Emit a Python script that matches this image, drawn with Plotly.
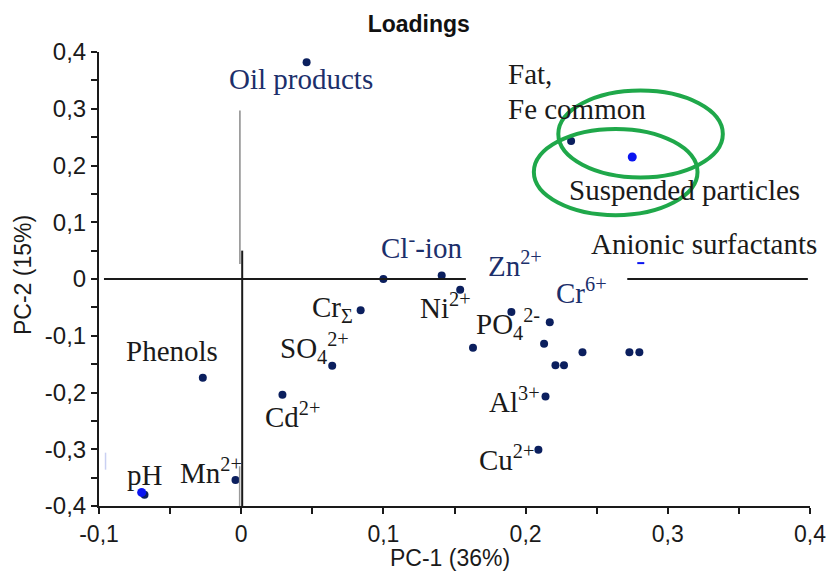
import plotly.graph_objects as go

# ---- data ----
pc1_navy = [0.046, 0.232, 0.100, 0.141, 0.154, 0.084, 0.190, 0.217, 0.163, 0.213, 0.240,
            0.273, 0.280, 0.221, 0.227, 0.214, 0.209, -0.027, 0.064, 0.029, -0.004, -0.068]
pc2_navy = [0.382, 0.243, 0.000, 0.006, -0.019, -0.055, -0.058, -0.076, -0.121, -0.114, -0.129,
            -0.129, -0.129, -0.152, -0.152, -0.207, -0.301, -0.174, -0.153, -0.204, -0.354, -0.380]
pc1_blue = [0.275, -0.070]
pc2_blue = [0.215, -0.376]
pc1_dash = [0.281]
pc2_dash = [0.028]

label_text = ["Oil products", "Fat,", "Fe common", "Suspended particles", "Anionic surfactants",
              "Cl<sup>-</sup>-ion", "Zn<sup>2+</sup>", "Cr<sup>6+</sup>", "Cr<sub>Σ</sub>",
              "Ni<sup>2+</sup>", "PO<sub>4</sub><sup>2-</sup>", "SO<sub>4</sub><sup>2+</sup>",
              "Phenols", "Cd<sup>2+</sup>", "Mn<sup>2+</sup>", "pH", "Al<sup>3+</sup>", "Cu<sup>2+</sup>"]
label_x = [0.0418, 0.1865, 0.1865, 0.2293, 0.2444, 0.0971, 0.1719, 0.2199, 0.0484,
           0.1240, 0.1637, 0.0257, -0.0821, 0.0152, -0.0444, -0.0819, 0.1726, 0.1656]
label_y = [0.3516, 0.3604, 0.3004, 0.1570, 0.0618, 0.0583, 0.0260, -0.0212, -0.0530,
           -0.0477, -0.0800, -0.1214, -0.1270, -0.2390, -0.3390, -0.3450, -0.2126, -0.3157]
label_navy = [True, False, False, False, False, True, True, True, False,
              False, False, False, False, False, False, False, False, False]

x_tickvals = [-0.1, 0, 0.1, 0.2, 0.3, 0.4]
x_ticktext = ["-0,1", "0", "0,1", "0,2", "0,3", "0,4"]
y_tickvals = [-0.4, -0.3, -0.2, -0.1, 0, 0.1, 0.2, 0.3, 0.4]
y_ticktext = ["-0,4", "-0,3", "-0,2", "-0,1", "0", "0,1", "0,2", "0,3", "0,4"]

NAVY = "#0b1f5e"
NAVY_TXT = "#1c2f6b"
SERIF = "Liberation Serif"
SANS = "Liberation Sans"

fig = go.Figure()

# axis cross lines
shapes = [
    dict(type="line", x0=-0.0965, x1=0.158, y0=0, y1=0, line=dict(color="#1a1a1a", width=2)),
    dict(type="line", x0=0.2715, x1=0.3985, y0=0, y1=0, line=dict(color="#1a1a1a", width=2)),
    dict(type="line", x0=0.0007, x1=0.0007, y0=0.05, y1=-0.4, line=dict(color="#1a1a1a", width=2)),
    dict(type="line", x0=-0.0009, x1=-0.0009, y0=0.297, y1=0.0265, line=dict(color="#8a8a8a", width=1.5)),
    dict(type="line", x0=-0.0011, x1=-0.0011, y0=-0.33, y1=-0.4, line=dict(color="#9a9a9a", width=1.5)),
    dict(type="line", x0=-0.0954, x1=-0.0954, y0=-0.306, y1=-0.336, line=dict(color="#c9d0f2", width=1.5)),
    # green ellipses
    dict(type="circle", x0=0.223, x1=0.3387, y0=0.179, y1=0.332, line=dict(color="#1fa84a", width=4)),
    dict(type="circle", x0=0.2058, x1=0.3209, y0=0.1125, y1=0.2645, line=dict(color="#1fa84a", width=4)),
]

fig.add_trace(go.Scatter(x=pc1_navy, y=pc2_navy, mode="markers",
                         marker=dict(color=NAVY, size=8), showlegend=False, hoverinfo="skip"))
fig.add_trace(go.Scatter(x=pc1_blue, y=pc2_blue, mode="markers",
                         marker=dict(color="#0a14f0", size=9), showlegend=False, hoverinfo="skip"))
fig.add_trace(go.Scatter(x=pc1_dash, y=pc2_dash, mode="markers",
                         marker=dict(symbol="line-ew", size=5, line=dict(color="#0a14f0", width=2)),
                         showlegend=False, hoverinfo="skip"))

annotations = []
for t, x, y, nv in zip(label_text, label_x, label_y, label_navy):
    anchor = "center" if t == "Oil products" else "left"
    annotations.append(dict(x=x, y=y, xref="x", yref="y", text=t, showarrow=False,
                            xanchor=anchor, yanchor="middle",
                            font=dict(family=SERIF, size=29, color=NAVY_TXT if nv else "#1a1a1a")))

annotations.append(dict(x=0.4937, y=-0.1145, xref="paper", yref="paper", text="PC-1 (36%)",
                        showarrow=False, xanchor="center", yanchor="middle",
                        font=dict(family=SANS, size=23, color="#1a1a1a")))
annotations.append(dict(x=-0.1069, y=0.5088, xref="paper", yref="paper", text="PC-2 (15%)",
                        showarrow=False, xanchor="center", yanchor="middle", textangle=-90,
                        font=dict(family=SANS, size=23, color="#1a1a1a")))

fig.update_layout(
    width=826, height=576,
    margin=dict(l=99, r=16, t=52, b=70),
    paper_bgcolor="white", plot_bgcolor="white",
    title=dict(text="<b>Loadings</b>", x=0.507, xref="container", xanchor="center",
               y=1 - 24 / 576, yref="container", yanchor="middle",
               font=dict(family=SANS, size=23, color="#111111")),
    xaxis=dict(range=[-0.1, 0.4], showgrid=False, zeroline=False, showline=True, automargin=False,
               linecolor="#1a1a1a", linewidth=2, ticks="outside", ticklen=6, tickwidth=2,
               tickcolor="#1a1a1a", tickvals=x_tickvals, ticktext=x_ticktext,
               ticklabeloverflow="allow",
               tickfont=dict(family=SANS, size=23, color="#1a1a1a"),
               minor=dict(dtick=0.05, tick0=0, ticks="outside", ticklen=6, tickwidth=2,
                          tickcolor="#1a1a1a"),
               fixedrange=True),
    yaxis=dict(range=[-0.4, 0.4], showgrid=False, zeroline=False, showline=True, automargin=False,
               linecolor="#1a1a1a", linewidth=2, ticks="outside", ticklen=6, tickwidth=2,
               tickcolor="#1a1a1a", tickvals=y_tickvals, ticktext=y_ticktext,
               tickfont=dict(family=SANS, size=24, color="#1a1a1a"),
               minor=dict(dtick=0.05, tick0=0, ticks="outside", ticklen=6, tickwidth=2,
                          tickcolor="#1a1a1a"),
               fixedrange=True),
    shapes=shapes,
    annotations=annotations,
)

fig.write_html("out.html")
